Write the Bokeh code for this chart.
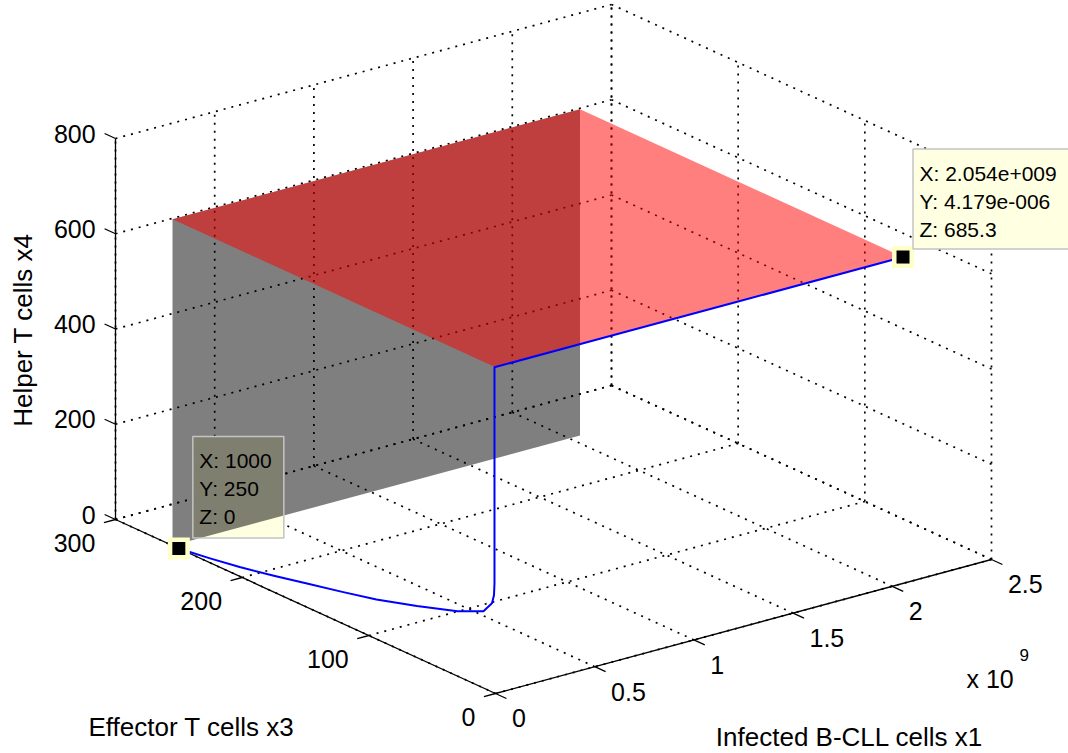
import math
from bokeh.plotting import figure
from bokeh.models import Range1d
from bokeh.core.properties import value
from bokeh.embed import file_html
from bokeh.resources import INLINE

# ---------------- data ----------------
x_ticks = [0, 0.5e9, 1.0e9, 1.5e9, 2.0e9, 2.5e9]
x_tick_labels = ["0", "0.5", "1", "1.5", "2", "2.5"]
y_ticks = [0, 100, 200, 300]
y_tick_labels = ["0", "100", "200", "300"]
z_ticks = [0, 200, 400, 600, 800]
z_tick_labels = ["0", "200", "400", "600", "800"]
x_exponent = "9"
x_label = "Infected B-CLL cells x1"
y_label = "Effector T cells x3"
z_label = "Helper T cells x4"

# trajectory (x1, x3, x4)
traj_x = [1000, 1000, 1000, 1000, 1000, 1000, 1000, 1000, 1000, 1000, 1000, 1000,
          1000, 1000, 0.5e9, 1.2e9, 2.054e9]
traj_y = [250, 226, 202, 175, 148, 121, 94, 62, 30, 9.5, 2.8, 1.2, 0.8, 0.8,
          0.3, 0.05, 4.179e-6]
traj_z = [0, 9, 19.5, 34, 50, 66, 83, 108, 136, 161, 186, 205, 230, 684,
          685.1, 685.2, 685.3]

# planes
plane_x_end = 2.054e9
plane_y = 255
plane_z = 685.3

# data tips: (x, y, z)
tip_start = (1000, 250, 0)
tip_end = (2.054e9, 4.179e-6, 685.3)

X_LIM = (0, 2.5e9)
Y_LIM = (0, 300)
Z_LIM = (0, 800)

# ---------------- projection (orthographic view) ----------------
ORIGIN = (495.0, 693.0)
EX = (496.0, -134.0)
EY = (-380.0, -174.0)
EZ = (0.0, -381.0)


def proj(x, y, z):
    u = (x - X_LIM[0]) / (X_LIM[1] - X_LIM[0])
    v = (y - Y_LIM[0]) / (Y_LIM[1] - Y_LIM[0])
    w = (z - Z_LIM[0]) / (Z_LIM[1] - Z_LIM[0])
    return (ORIGIN[0] + u * EX[0] + v * EY[0] + w * EZ[0],
            ORIGIN[1] + u * EX[1] + v * EY[1] + w * EZ[1])


def unit(vx, vy):
    n = math.hypot(vx, vy)
    return vx / n, vy / n


UX = unit(*EX)
UY = unit(*EY)
TICK = 12.0


def mfmt(v):
    s = "%.4g" % v
    if "e" in s:
        m, e = s.split("e")
        sign = e[0]
        digits = e[1:].lstrip("0") or "0"
        s = m + "e" + sign + digits.zfill(3)
    return s


W, H = 1068, 753
p = figure(width=W, height=H, x_range=Range1d(0, W), y_range=Range1d(H, 0),
           output_backend="svg", toolbar_location=None, min_border=0,
           x_axis_location=None, y_axis_location=None)
p.grid.visible = False
p.outline_line_color = None
p.background_fill_color = "white"
p.border_fill_color = "white"

FONT = value("Liberation Sans")

# ---------------- grid lines on back planes ----------------
gx, gy = [], []


def seg(a, b):
    pa = proj(*a)
    pb = proj(*b)
    gx.append([pa[0], pb[0]])
    gy.append([pa[1], pb[1]])


xmax, ymax, zmax = X_LIM[1], Y_LIM[1], Z_LIM[1]
for xv in x_ticks:
    seg((xv, 0, 0), (xv, ymax, 0))
    seg((xv, ymax, 0), (xv, ymax, zmax))
for yv in y_ticks:
    seg((0, yv, 0), (xmax, yv, 0))
    seg((xmax, yv, 0), (xmax, yv, zmax))
for zv in z_ticks:
    seg((0, ymax, zv), (xmax, ymax, zv))
    seg((xmax, 0, zv), (xmax, ymax, zv))
p.multi_line(gx, gy, line_color="black", line_width=1.7, line_dash="2 6")

# ---------------- axes ----------------
ax_x, ax_y = [], []
for a, b in [((0, 0, 0), (xmax, 0, 0)), ((0, 0, 0), (0, ymax, 0)), ((0, ymax, 0), (0, ymax, zmax))]:
    pa, pb = proj(*a), proj(*b)
    ax_x.append([pa[0], pb[0]])
    ax_y.append([pa[1], pb[1]])

lab_x, lab_y, lab_t, lab_align = [], [], [], []
# x ticks point along -y
for xv, t in zip(x_ticks, x_tick_labels):
    px, py = proj(xv, 0, 0)
    ex, ey = px - UY[0] * TICK, py - UY[1] * TICK
    ax_x.append([px, ex]); ax_y.append([py, ey])
    lab_x.append(ex + 5.5); lab_y.append(ey + 20); lab_t.append(t); lab_align.append("left")
# y ticks point along -x
for yv, t in zip(y_ticks, y_tick_labels):
    px, py = proj(0, yv, 0)
    ex, ey = px - UX[0] * TICK, py - UX[1] * TICK
    ax_x.append([px, ex]); ax_y.append([py, ey])
    lab_x.append(ex - 8.5); lab_y.append(ey + 20); lab_t.append(t); lab_align.append("right")
# z ticks point along +y
for zv, t in zip(z_ticks, z_tick_labels):
    px, py = proj(0, ymax, zv)
    ex, ey = px + UY[0] * TICK, py + UY[1] * TICK
    ax_x.append([px, ex]); ax_y.append([py, ey])
    lab_x.append(ex - 9); lab_y.append(ey); lab_t.append(t); lab_align.append("right")
p.multi_line(ax_x, ax_y, line_color="black", line_width=1.3)

# ---------------- data tip box for start point (under the grey plane) ----------------
TIP_FILL = "#FFFFE1"
TIP_LINE = "#C4C4C4"
s_mx, s_my = proj(*tip_start)
e_mx, e_my = proj(*tip_end)
box_s = dict(left=s_mx + 14, right=s_mx + 105, top=s_my - 112, bottom=s_my - 10.5)
box_e = dict(left=e_mx + 10, right=e_mx + 180, top=e_my - 108, bottom=e_my - 8)
p.quad(**box_s, fill_color=TIP_FILL, line_color=None)

# ---------------- planes ----------------
gp = [proj(0, plane_y, 0), proj(plane_x_end, plane_y, 0),
      proj(plane_x_end, plane_y, plane_z), proj(0, plane_y, plane_z)]
p.patch([q[0] for q in gp], [q[1] for q in gp], fill_color="black", fill_alpha=0.5, line_color=None)
rp = [proj(0, 0, plane_z), proj(0, plane_y, plane_z),
      proj(plane_x_end, plane_y, plane_z), proj(plane_x_end, 0, plane_z)]
p.patch([q[0] for q in rp], [q[1] for q in rp], fill_color="red", fill_alpha=0.5, line_color=None)

p.quad(**box_s, fill_color=None, line_color=TIP_LINE, line_width=1.5)

# ---------------- trajectory ----------------
tp = [proj(a, b, c) for a, b, c in zip(traj_x, traj_y, traj_z)]
p.line([q[0] for q in tp], [q[1] for q in tp], line_color="#0000FF", line_width=2,
       line_join="round")

# markers
p.scatter([s_mx, e_mx], [s_my, e_my], marker="square", size=22, fill_color="#FFFFC8",
          line_color=None)
p.scatter([s_mx, e_mx], [s_my, e_my], marker="square", size=13, fill_color="black",
          line_color=None)

# data tip box for end point
p.quad(**box_e, fill_color=TIP_FILL, line_color=TIP_LINE, line_width=1.5)

tip_tx, tip_ty, tip_tt = [], [], []
for box, pt in [(box_s, tip_start), (box_e, tip_end)]:
    for i, (name, v) in enumerate(zip(["X", "Y", "Z"], pt)):
        tip_tx.append(box["left"] + 6.5)
        tip_ty.append(box["top"] + 24 + 28 * i)
        tip_tt.append("%s: %s" % (name, mfmt(v)))
p.text(tip_tx, tip_ty, text=tip_tt, text_font=FONT, text_font_size="21px",
       text_baseline="middle", text_align="left", text_color="black")

# ---------------- tick labels ----------------
for al in ("left", "right"):
    idx = [i for i, a in enumerate(lab_align) if a == al]
    p.text([lab_x[i] for i in idx], [lab_y[i] for i in idx], text=[lab_t[i] for i in idx],
           text_font=FONT, text_font_size="25px", text_baseline="middle", text_align=al,
           text_color="black")

# exponent label
x_end = proj(xmax, 0, 0)
p.text([x_end[0] - 25], [x_end[1] + 119], text=["x 10"], text_font=FONT, text_font_size="25px",
       text_baseline="middle", text_align="left", text_color="black")
p.text([x_end[0] + 28], [x_end[1] + 95], text=[x_exponent], text_font=FONT, text_font_size="17px",
       text_baseline="middle", text_align="left", text_color="black")

# axis labels
xm = proj(xmax / 2, 0, 0)
ym = proj(0, ymax / 2, 0)
zm = proj(0, ymax, zmax / 2)
p.text([xm[0] + 106], [xm[1] + 110], text=[x_label], text_font=FONT, text_font_size="26px",
       text_baseline="middle", text_align="center", text_color="black")
p.text([ym[0] - 114], [ym[1] + 120], text=[y_label], text_font=FONT, text_font_size="26px",
       text_baseline="middle", text_align="center", text_color="black")
p.text([zm[0] - 93], [zm[1] + 1], text=[z_label], text_font=FONT, text_font_size="26px",
       text_baseline="middle", text_align="center", text_color="black", angle=math.pi / 2)

open("out.html", "w").write(file_html(p, INLINE))
